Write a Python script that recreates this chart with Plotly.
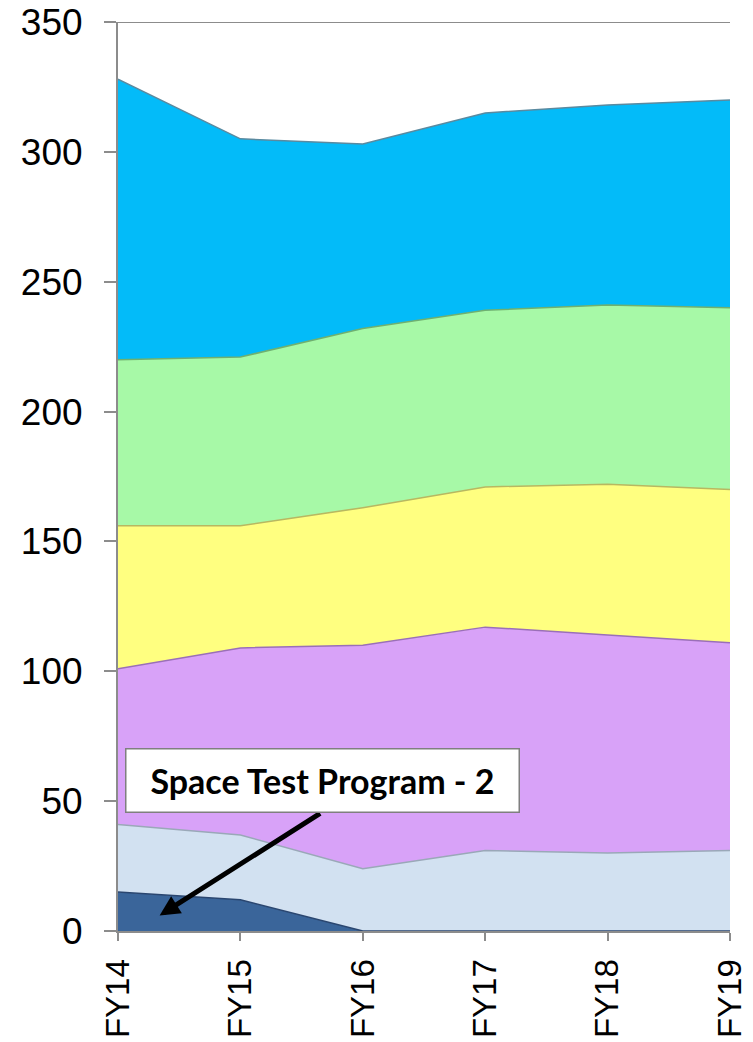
import plotly.graph_objects as go

years = ["FY14", "FY15", "FY16", "FY17", "FY18", "FY19"]

# stacked series (increments), bottom to top
space_test_program_2 = [15, 12, 0, 0, 0, 0]
series_b = [26, 25, 24, 31, 30, 31]
series_c = [60, 72, 86, 86, 84, 80]
series_d = [55, 47, 53, 54, 58, 59]
series_e = [64, 65, 69, 68, 69, 70]
series_f = [108, 84, 71, 76, 77, 80]

series = [
    ("Space Test Program - 2", space_test_program_2, "#3A659A", "#2A4670"),
    ("B", series_b, "#D2E1F1", "#9AA8B8"),
    ("C", series_c, "#D8A2F8", "#9A6FB8"),
    ("D", series_d, "#FFFF80", "#B8B860"),
    ("E", series_e, "#A7F9A7", "#6FB070"),
    ("F", series_f, "#03BBF9", "#5A8AA0"),
]

fig = go.Figure()
for name, vals, fc, lc in series:
    fig.add_trace(go.Scatter(
        x=years, y=vals, name=name, mode="lines",
        stackgroup="one", fillcolor=fc,
        line=dict(color=lc, width=1.5),
        hoverinfo="x+y",
    ))

axis_color = "#8C8C8C"
fig.update_layout(
    width=753, height=1042,
    margin=dict(l=118, r=23, t=22, b=111),
    paper_bgcolor="white", plot_bgcolor="white",
    showlegend=False,
    font=dict(family="Liberation Sans, Arial", color="black"),
    xaxis=dict(
        type="category", range=[0, 5], automargin=False,
        tickangle=-90, tickfont=dict(size=33),
        showline=True, linecolor=axis_color, linewidth=2,
        ticks="outside", ticklen=8, tickcolor=axis_color, tickwidth=1.5,
        showgrid=False, ticklabelstandoff=5,
    ),
    yaxis=dict(
        range=[0, 350], dtick=50, tickfont=dict(size=37), automargin=False,
        showline=True, linecolor=axis_color, linewidth=2,
        ticks="outside", ticklen=12, tickcolor=axis_color, tickwidth=1.5,
        showgrid=True, gridcolor=axis_color, gridwidth=2,
        ticklabelstandoff=14, zeroline=False,
    ),
)

# top gridline at the axis maximum
fig.add_shape(type="line", xref="paper", yref="y", x0=0, x1=1, y0=350, y1=350,
              line=dict(color=axis_color, width=2), layer="below")

# annotation arrow
fig.add_annotation(
    x=0.34, y=6, xref="x", yref="y",
    ax=162, ay=-103, axref="pixel", ayref="pixel",
    text="", showarrow=True,
    arrowhead=2, arrowsize=0.8, arrowwidth=5, arrowcolor="black",
)
# annotation text box
fig.add_annotation(
    x=1.667, y=58, xref="x", yref="y",
    text="<b>Space Test Program - 2</b>", showarrow=False,
    font=dict(family="Lato, Carlito, sans-serif", size=34, color="black"),
    bgcolor="white", bordercolor="#7F7F7F", borderwidth=1.5,
    width=392, height=62, borderpad=0,
)

fig.write_html("out.html", config={"displayModeBar": False},
               post_script="document.body.style.margin='0';document.body.style.overflow='hidden';")
